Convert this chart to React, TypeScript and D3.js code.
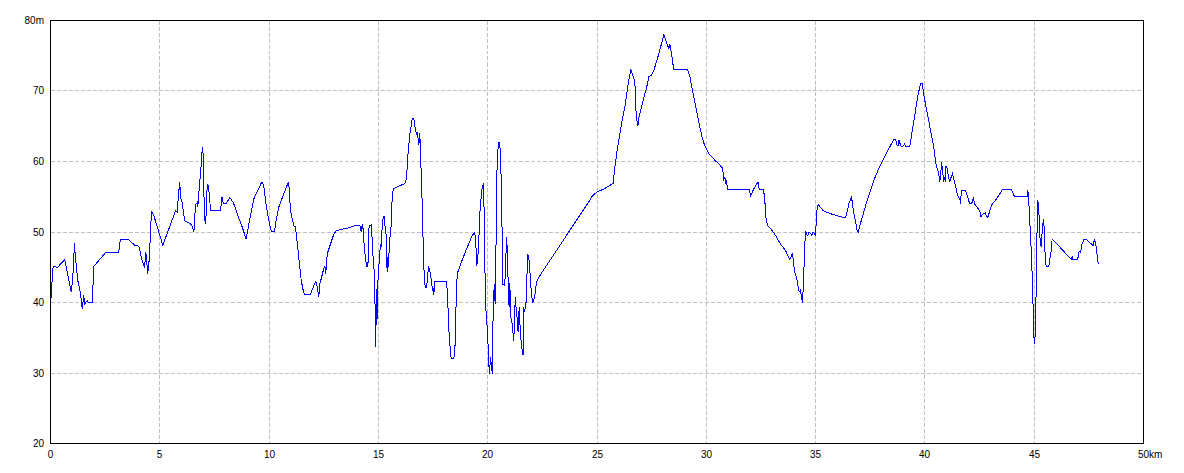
import React from "react";
import * as d3 from "d3";

const distanceKm = [
  0.0, 0.05, 0.12, 0.33, 0.65, 0.95, 1.02, 1.1, 1.13, 1.25, 1.37, 1.45, 1.52, 1.57, 1.68, 1.72, 1.91, 1.98, 2.06, 2.52,
  3.12, 3.16, 3.2, 3.54, 3.86, 4.04, 4.19, 4.3, 4.36, 4.45, 4.52, 4.62, 4.73, 5.14, 5.29, 5.72, 5.8, 5.84, 5.91, 5.95,
  6.02, 6.14, 6.37, 6.46, 6.56, 6.63, 6.71, 6.74, 6.82, 6.89, 6.94, 6.97, 7.01, 7.04, 7.1, 7.17, 7.23, 7.27, 7.33, 7.78,
  7.84, 7.9, 8.05, 8.2, 8.36, 8.61, 8.77, 8.95, 9.03, 9.3, 9.65, 9.71, 9.76, 9.88, 9.99, 10.1, 10.25, 10.32, 10.44, 10.67,
  10.87, 10.9, 10.98, 11.13, 11.21, 11.29, 11.4, 11.47, 11.56, 11.63, 11.89, 12.02, 12.14, 12.2, 12.27, 12.32, 12.5, 12.55, 12.59, 12.66,
  12.81, 12.96, 13.08, 13.34, 13.65, 13.95, 14.12, 14.18, 14.21, 14.26, 14.29, 14.33, 14.41, 14.46, 14.5, 14.52, 14.56, 14.61, 14.67, 14.72,
  14.76, 14.82, 14.88, 14.91, 14.95, 14.97, 15.02, 15.06, 15.1, 15.13, 15.17, 15.22, 15.27, 15.29, 15.34, 15.37, 15.4, 15.43, 15.46, 15.51,
  15.55, 15.59, 15.63, 15.68, 15.86, 16.01, 16.16, 16.24, 16.29, 16.34, 16.44, 16.5, 16.55, 16.62, 16.67, 16.73, 16.77, 16.8, 16.83, 16.87,
  16.89, 16.93, 16.97, 17.02, 17.06, 17.11, 17.14, 17.2, 17.23, 17.29, 17.34, 17.38, 17.43, 17.47, 17.51, 17.53, 17.58, 18.12, 18.15, 18.19,
  18.24, 18.3, 18.33, 18.45, 18.5, 18.54, 18.57, 18.63, 18.83, 19.06, 19.29, 19.41, 19.46, 19.5, 19.55, 19.61, 19.64, 19.7, 19.75, 19.82,
  19.85, 19.9, 19.94, 19.98, 20.02, 20.05, 20.08, 20.13, 20.16, 20.21, 20.25, 20.3, 20.34, 20.39, 20.43, 20.49, 20.55, 20.6, 20.66, 20.69,
  20.77, 20.81, 20.86, 20.89, 20.94, 20.98, 21.01, 21.06, 21.1, 21.15, 21.19, 21.23, 21.26, 21.29, 21.35, 21.39, 21.44, 21.49, 21.53, 21.58,
  21.62, 21.65, 21.68, 21.73, 21.77, 21.81, 21.83, 21.88, 21.93, 21.99, 22.05, 22.11, 22.19, 22.23, 22.34, 24.67, 24.78, 25.01, 25.31, 25.74,
  25.79, 25.92, 26.15, 26.3, 26.45, 26.55, 26.64, 26.72, 26.76, 26.79, 26.87, 26.91, 27.07, 27.27, 27.37, 27.48, 27.6, 27.83, 28.06, 28.21,
  28.29, 28.33, 28.44, 28.51, 29.15, 29.25, 29.4, 29.55, 29.7, 29.81, 29.92, 30.11, 30.42, 30.65, 30.75, 30.8, 30.85, 30.89, 30.92, 30.98,
  31.99, 32.01, 32.17, 32.36, 32.43, 32.6, 32.66, 32.74, 32.81, 32.94, 33.17, 33.39, 33.62, 33.82, 33.93, 33.97, 34.04, 34.13, 34.19, 34.25,
  34.3, 34.36, 34.4, 34.45, 34.49, 34.54, 34.58, 34.64, 34.71, 34.77, 34.83, 34.89, 34.95, 34.99, 35.04, 35.08, 35.13, 35.19, 35.22, 35.35,
  35.68, 35.99, 36.22, 36.37, 36.45, 36.52, 36.64, 36.67, 36.75, 36.83, 36.9, 36.95, 37.05, 37.36, 37.66, 37.89, 38.2, 38.43, 38.58, 38.66,
  38.73, 38.78, 38.81, 38.84, 38.92, 38.98, 39.07, 39.11, 39.31, 39.42, 39.57, 39.68, 39.8, 39.88, 39.95, 40.11, 40.26, 40.41, 40.49, 40.56,
  40.63, 40.68, 40.71, 40.76, 40.81, 40.84, 40.86, 40.9, 40.93, 40.96, 41.02, 41.07, 41.14, 41.2, 41.26, 41.32, 41.4, 41.48, 41.55, 41.6,
  41.63, 41.67, 41.86, 41.93, 42.05, 42.12, 42.18, 42.21, 42.27, 42.39, 42.51, 42.57, 42.62, 42.69, 42.77, 42.82, 42.88, 42.97, 43.08, 43.23,
  43.38, 43.54, 43.96, 44.1, 44.68, 44.71, 44.74, 44.79, 44.83, 44.88, 44.92, 44.97, 45.0, 45.05, 45.07, 45.1, 45.13, 45.16, 45.21, 45.24,
  45.29, 45.33, 45.38, 45.41, 45.44, 45.47, 45.52, 45.55, 45.67, 45.71, 45.78, 45.82, 46.05, 46.28, 46.51, 46.71, 46.74, 46.77, 46.99, 47.04,
  47.09, 47.13, 47.16, 47.24, 47.28, 47.39, 47.5, 47.65, 47.7, 47.76, 47.8, 47.85, 47.88, 47.93,
];

const elevationM = [
  39.2, 42.1, 45.1, 45, 46.1, 41.5, 43.6, 48.5, 46.7, 43.1, 41.4, 39.1, 41, 39.8, 40.3, 40, 40, 45.1, 45.4, 47.1,
  47.1, 48.1, 49, 49, 48.1, 48, 46, 44.9, 47.2, 44.1, 46.2, 53, 52.3, 48.1, 49.4, 53, 52.8, 54.7, 57.1, 54.9,
  54.2, 51.6, 51.2, 51, 50, 53.8, 54.2, 53.6, 56.8, 59.4, 61.8, 62.1, 57.1, 51.9, 51.2, 56.8, 56.5, 54.9, 53, 53,
  55, 54.1, 54.1, 54.9, 54.2, 52, 50.7, 49, 50.4, 54.7, 57, 57, 56.4, 53.5, 51.6, 50.1, 50.1, 51.6, 53.5, 55.4,
  57, 57, 53, 50.9, 50.7, 48.3, 45.2, 43.1, 41.7, 41.1, 41.1, 42.2, 43, 42.2, 40.8, 42.6, 44.8, 45.2, 44.1, 46.9,
  48.3, 49.7, 50.2, 50.4, 50.6, 50.9, 51, 50.8, 50, 51, 50.8, 48.8, 46.2, 45.2, 45.5, 45, 50.5, 50.9, 51, 48.8,
  46.2, 44.1, 33.7, 41.9, 37.7, 42.6, 45, 47.1, 48.1, 47.9, 50.5, 52.1, 52.2, 50.9, 50.5, 47.4, 44.3, 46.4, 45, 48.8,
  49.7, 51.2, 54.9, 56.1, 56.4, 56.6, 56.8, 57, 57.8, 60.6, 63.9, 65.1, 66.1, 66.1, 64.9, 64.1, 63.8, 64.1, 62.3, 62.7,
  64.1, 61.3, 56.6, 53, 46, 43.4, 42.1, 42.1, 42.9, 45, 44.8, 43.8, 43.2, 41.7, 42, 41, 43, 43, 41.5, 38.9,
  35.1, 33, 32, 32, 33.4, 37.7, 42.6, 44.3, 46, 47.8, 49.5, 50, 48.1, 45.2, 46.5, 50, 52.6, 54.9, 56.4, 56.8,
  48.3, 40.8, 37.4, 36.5, 33.7, 31.3, 29.9, 32.2, 31.3, 29.9, 38.9, 42.6, 39.8, 50.2, 59.7, 62.7, 62.7, 59.7, 49.7, 42.6,
  42.4, 44.1, 49.3, 47.8, 42.6, 39.3, 42.8, 37.9, 37.4, 36, 34.6, 37.4, 40.8, 39.5, 37.7, 35.8, 39.3, 36, 34.4, 33.2,
  32.5, 39.3, 38.6, 39.6, 40.3, 45.5, 46.9, 46.4, 44.5, 41.7, 40, 40.3, 41.7, 42.9, 43.6, 54.5, 55.1, 55.7, 56.1, 56.9,
  58.5, 61.6, 65.8, 68.2, 71.5, 73, 72.2, 71.5, 69.8, 66.5, 65, 66.1, 68.2, 70.5, 72, 72.2, 72.9, 75.3, 78, 76.6,
  76, 76.7, 74.6, 73, 73, 72, 69.6, 67.2, 65, 63.4, 62.3, 61.1, 60.1, 59.4, 59, 57.5, 57.8, 56.8, 57.3, 56,
  56, 55, 56.1, 57.1, 56, 56, 55.2, 51.6, 50.9, 50.5, 49.5, 48.3, 47.4, 46.1, 46.9, 46.2, 44.3, 43.6, 42.4, 41.5,
  41.7, 40.8, 40, 43.1, 47.1, 50.2, 49.7, 49.5, 50, 49.8, 49.5, 50, 49.8, 49.5, 51.9, 53.8, 53.9, 53.6, 53.5, 53,
  52.6, 52.3, 52.1, 52, 53, 54, 54.9, 54.4, 52.6, 51.4, 50.2, 50, 51.2, 54.5, 57.3, 59, 60.9, 62.3, 63.1, 63.1,
  62.3, 62.3, 63.1, 62.7, 62.1, 62.1, 62.5, 62.1, 62.1, 64.4, 67.2, 69.4, 71, 71, 69.4, 66.8, 64.4, 62, 59.9, 59,
  58.3, 57.3, 57.5, 59.9, 58.7, 57.8, 57.1, 57.8, 57.1, 59.4, 59, 58, 57.1, 57.8, 58.3, 57.5, 56.6, 55.4, 54.9, 54.7,
  54, 55.9, 55.9, 55.2, 54, 54, 54.3, 54.9, 54, 53.5, 53, 52.1, 52.5, 52.6, 52.7, 52.2, 52.1, 53, 54, 54.5,
  55.2, 56, 56, 55, 55, 55.9, 55, 52.1, 49.5, 46.4, 42.6, 37.2, 34.1, 35.5, 38.9, 43.1, 50.2, 54.5, 53.5, 50.2,
  48.1, 48, 51.2, 51.2, 51.9, 48.5, 45.8, 45.1, 45.1, 46.1, 47.4, 49, 48.3, 47.5, 46.7, 46.1, 46.6, 46.1, 46.1, 47.1,
  47.3, 47, 48.1, 48.6, 49, 48.9, 48.6, 48.2, 48.1, 49, 48.6, 47.5, 46.7, 45.4,
];

const xTicks = [0, 5, 10, 15, 20, 25, 30, 35, 40, 45, 50];
const xTickLabels = ["0", "5", "10", "15", "20", "25", "30", "35", "40", "45", "50km"];
const yTicks = [20, 30, 40, 50, 60, 70, 80];
const yTickLabels = ["20", "30", "40", "50", "60", "70", "80m"];

export default function App() {
  const W = 1184;
  const H = 473;
  const left = 50;
  const right = 1143;
  const top = 20;
  const bottom = 443;
  const x = d3.scaleLinear().domain([0, 50]).range([left, right]);
  const y = d3.scaleLinear().domain([20, 80]).range([bottom, top]);

  const pts: [number, number][] = distanceKm.map((d, i) => [d, elevationM[i]]);
  const line = d3
    .line<[number, number]>()
    .x((d) => x(d[0]) + 0.5)
    .y((d) => y(d[1]) + 0.5);

  const font = "'Liberation Sans', Arial, sans-serif";

  return (
    <svg
      width={W}
      height={H}
      style={{ position: "absolute", left: 0, top: 0, background: "#fff" }}
    >
      <rect x={0} y={0} width={W} height={H} fill="#fff" />
      {xTicks.slice(1, -1).map((t) => (
        <line
          key={"gx" + t}
          x1={Math.round(x(t)) + 0.5}
          x2={Math.round(x(t)) + 0.5}
          y1={top + 0.5}
          y2={bottom + 0.5}
          stroke="#c0c0c0"
          strokeDasharray="4,2"
          shapeRendering="crispEdges"
        />
      ))}
      {yTicks.slice(1, -1).map((t) => (
        <line
          key={"gy" + t}
          x1={left + 0.5}
          x2={right + 0.5}
          y1={Math.round(y(t)) + 0.5}
          y2={Math.round(y(t)) + 0.5}
          stroke="#c0c0c0"
          strokeDasharray="4,2"
          shapeRendering="crispEdges"
        />
      ))}
      <path
        d={line(pts) || ""}
        fill="none"
        stroke="#0000ff"
        strokeWidth={1}
        shapeRendering="crispEdges"
      />
      <rect
        x={left + 0.5}
        y={top + 0.5}
        width={right - left}
        height={bottom - top}
        fill="none"
        stroke="#000"
        shapeRendering="crispEdges"
      />
      {yTicks.map((t, i) => (
        <text
          key={"yl" + t}
          x={44}
          y={Math.round(y(t)) + 4}
          textAnchor="end"
          fontFamily={font}
          fontSize={10}
          fill="#000"
        >
          {yTickLabels[i]}
        </text>
      ))}
      {xTicks.map((t, i) => (
        <text
          key={"xl" + t}
          x={i === xTicks.length - 1 ? Math.round(x(t)) - 5 : Math.round(x(t)) + 0.5}
          y={458}
          textAnchor={i === xTicks.length - 1 ? "start" : "middle"}
          fontFamily={font}
          fontSize={10}
          fill="#000"
        >
          {xTickLabels[i]}
        </text>
      ))}
    </svg>
  );
}
